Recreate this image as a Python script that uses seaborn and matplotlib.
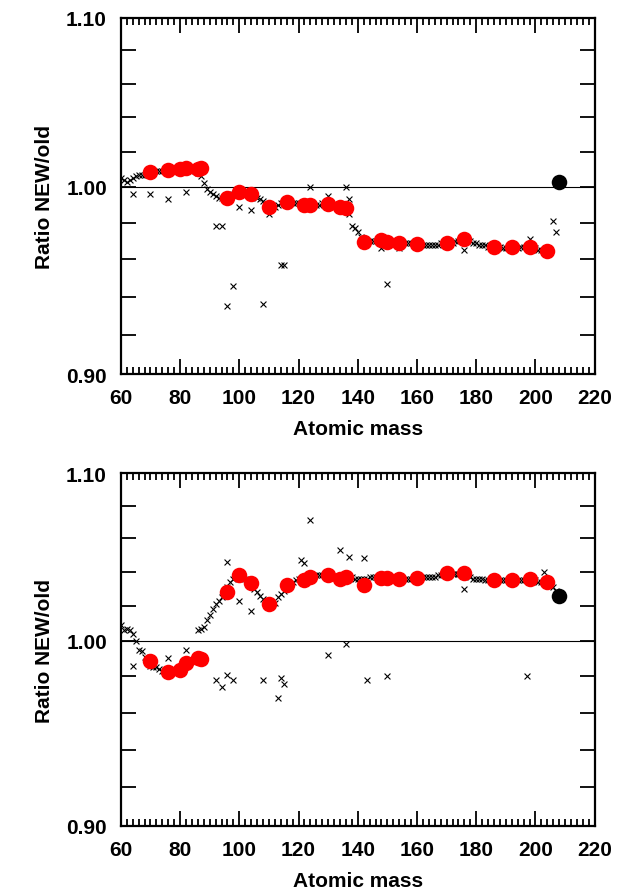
import numpy as np
import pandas as pd
import seaborn as sns
import matplotlib.pyplot as plt
from matplotlib.ticker import FixedLocator, FixedFormatter, MultipleLocator, NullLocator

# masses of the full chain of x markers
mass = list(range(60, 206))
mass_b = list(range(60, 208))

# top panel, chain of x markers
ratio_top = [
    1.005, 1.004, 1.003, 1.004, 1.005, 1.006, 1.007, 1.007, 1.007, 1.008,
    1.008, 1.008, 1.009, 1.009, 1.009, 1.009, 1.009, 1.010, 1.010, 1.010,
    1.010, 1.010, 1.010, 1.010, 1.010, 1.009, 1.008, 1.006, 1.002, 0.999,
    0.997, 0.996, 0.995, 0.994, 0.994, 0.994, 0.994, 0.995, 0.996, 0.997,
    0.997, 0.997, 0.997, 0.996, 0.996, 0.995, 0.994, 0.993, 0.992, 0.990,
    0.989, 0.988, 0.989, 0.990, 0.991, 0.991, 0.991, 0.991, 0.991, 0.991,
    0.991, 0.990, 0.990, 0.990, 0.990, 0.990, 0.990, 0.990, 0.991, 0.991,
    0.991, 0.990, 0.990, 0.989, 0.989, 0.989, 0.989, 0.985, 0.978, 0.977,
    0.975, 0.972, 0.970, 0.970, 0.970, 0.970, 0.970, 0.970, 0.970, 0.970,
    0.969, 0.969, 0.969, 0.969, 0.969, 0.969, 0.969, 0.969, 0.969, 0.968,
    0.968, 0.968, 0.968, 0.968, 0.968, 0.968, 0.968, 0.968, 0.969, 0.969,
    0.969, 0.969, 0.969, 0.970, 0.970, 0.971, 0.971, 0.970, 0.970, 0.969,
    0.969, 0.968, 0.968, 0.968, 0.967, 0.967, 0.967, 0.967, 0.967, 0.966,
    0.966, 0.966, 0.966, 0.966, 0.966, 0.967, 0.967, 0.967, 0.967, 0.966,
    0.966, 0.965, 0.965, 0.965, 0.964, 0.964,
]

# top panel, scattered x markers
out_mass_top = [64, 70, 76, 82, 92, 94, 96, 98, 100, 104, 108, 110, 114, 115,
                124, 130, 136, 137, 148, 150, 154, 176, 198, 206, 207, 208]
out_ratio_top = [0.996, 0.996, 0.993, 0.997, 0.978, 0.978, 0.935, 0.946, 0.989,
                 0.987, 0.936, 0.985, 0.957, 0.957, 1.000, 0.995, 1.000, 0.993,
                 0.966, 0.947, 0.966, 0.965, 0.971, 0.981, 0.975, 1.004]

# bottom panel, chain of x markers
ratio_bot = [
    1.009, 1.006, 1.007, 1.006, 1.004, 1.000, 0.995, 0.994, 0.991, 0.988,
    0.986, 0.985, 0.985, 0.984, 0.983, 0.983, 0.983, 0.983, 0.983, 0.984,
    0.984, 0.986, 0.987, 0.988, 0.989, 0.990, 1.006, 1.007, 1.008, 1.012,
    1.015, 1.018, 1.021, 1.023, 1.025, 1.028, 1.031, 1.034, 1.036, 1.037,
    1.038, 1.037, 1.036, 1.034, 1.033, 1.030, 1.028, 1.026, 1.024, 1.022,
    1.021, 1.021, 1.022, 1.025, 1.027, 1.029, 1.031, 1.033, 1.034, 1.035,
    1.036, 1.036, 1.036, 1.037, 1.037, 1.037, 1.038, 1.038, 1.038, 1.038,
    1.038, 1.038, 1.037, 1.037, 1.036, 1.036, 1.036, 1.037, 1.037, 1.036,
    1.036, 1.036, 1.036, 1.036, 1.037, 1.037, 1.037, 1.037, 1.037, 1.036,
    1.036, 1.036, 1.036, 1.036, 1.036, 1.036, 1.036, 1.036, 1.036, 1.036,
    1.036, 1.036, 1.037, 1.037, 1.037, 1.037, 1.037, 1.038, 1.038, 1.039,
    1.039, 1.039, 1.039, 1.039, 1.039, 1.039, 1.039, 1.038, 1.037, 1.036,
    1.036, 1.036, 1.036, 1.035, 1.035, 1.035, 1.035, 1.035, 1.035, 1.035,
    1.035, 1.035, 1.035, 1.035, 1.035, 1.035, 1.035, 1.035, 1.035, 1.035,
    1.035, 1.034, 1.034, 1.034, 1.033, 1.032, 1.031, 1.029,
]

# bottom panel, scattered x markers
out_mass_bot = [64, 76, 82, 92, 94, 96, 98, 96, 100, 104, 108, 113, 114, 115,
                121, 122, 124, 130, 134, 136, 137, 142, 143, 150, 176, 197, 203]
out_ratio_bot = [0.986, 0.990, 0.995, 0.978, 0.974, 0.981, 0.978, 1.046, 1.023,
                 1.017, 0.978, 0.968, 0.979, 0.976, 1.047, 1.045, 1.071, 0.992,
                 1.053, 0.998, 1.049, 1.048, 0.978, 0.980, 1.030, 0.980, 1.040]

# red circles (same nuclei in both panels)
red_mass = [70, 76, 80, 82, 86, 87, 96, 100, 104, 110, 116, 122, 124, 130, 134,
            136, 142, 148, 150, 154, 160, 170, 176, 186, 192, 198, 204]
red_top = [1.0083, 1.0095, 1.0100, 1.0110, 1.0100, 1.0105, 0.9936, 0.9973,
           0.9963, 0.9888, 0.9915, 0.9899, 0.9899, 0.9904, 0.9888, 0.9883,
           0.9697, 0.9707, 0.9697, 0.9690, 0.9686, 0.9690, 0.9713, 0.9670,
           0.9665, 0.9670, 0.9644]
red_bot = [0.9887, 0.9827, 0.9838, 0.9876, 0.9903, 0.9897, 1.0280, 1.0380,
           1.0333, 1.0214, 1.0320, 1.0350, 1.0369, 1.0380, 1.0357, 1.0369,
           1.0320, 1.0363, 1.0363, 1.0357, 1.0363, 1.0393, 1.0393, 1.0350,
           1.0350, 1.0357, 1.0340]

# black circle (A = 208)
black_mass = [208]
black_top = [1.003]
black_bot = [1.026]

sns.set_style('ticks')
plt.rcParams['font.family'] = ['Liberation Sans', 'DejaVu Sans']
plt.rcParams['font.weight'] = 'bold'
plt.rcParams['text.color'] = 'black'
plt.rcParams['axes.labelcolor'] = 'black'
plt.rcParams['xtick.color'] = 'black'
plt.rcParams['ytick.color'] = 'black'

fig = plt.figure(figsize=(6.26, 8.95), dpi=100)
ax1 = fig.add_axes([0.193, 0.581, 0.757, 0.398])
ax2 = fig.add_axes([0.193, 0.076, 0.757, 0.394])

panels = [
    (ax1, mass, ratio_top, out_mass_top, out_ratio_top, red_top, black_top),
    (ax2, mass_b, ratio_bot, out_mass_bot, out_ratio_bot, red_bot, black_bot),
]

yticks = [0.90, 0.92, 0.94, 0.96, 0.98, 1.00, 1.02, 1.04, 1.06, 1.08, 1.10]
ylabels = ['0.90', '', '', '', '', '1.00', '', '', '', '', '1.10']

for ax, m, r, om, orr, rr, br in panels:
    ax.set_yscale('log')
    ax.axhline(1.0, color='black', lw=0.8, zorder=1)
    xs = pd.DataFrame({'A': list(m) + om, 'ratio': list(r) + orr})
    sns.scatterplot(data=xs, x='A', y='ratio', marker='x', color='black',
                    s=18, linewidth=0.8, ax=ax, zorder=2)
    sns.scatterplot(x=red_mass, y=rr, marker='o', color='red', s=125,
                    linewidth=0, ax=ax, zorder=3)
    sns.scatterplot(x=black_mass, y=br, marker='o', color='black', s=125,
                    linewidth=0, ax=ax, zorder=3)

    ax.set_xlim(60, 220)
    ax.set_ylim(0.90, 1.10)
    ax.xaxis.set_major_locator(MultipleLocator(20))
    ax.xaxis.set_minor_locator(MultipleLocator(2))
    ax.yaxis.set_major_locator(FixedLocator(yticks))
    ax.yaxis.set_major_formatter(FixedFormatter(ylabels))
    ax.yaxis.set_minor_locator(NullLocator())

    ax.tick_params(which='both', direction='in', top=True, right=True,
                   width=1.3, labelsize=15, pad=10, colors='black')
    ax.tick_params(which='major', length=11)
    ax.tick_params(which='minor', length=5)
    for s in ax.spines.values():
        s.set_linewidth(1.6)
        s.set_color('black')

    ax.set_xlabel('Atomic mass', fontsize=15, fontweight='bold', labelpad=9,
                  color='black')
    ax.set_ylabel('Ratio NEW/old', fontsize=15, fontweight='bold', labelpad=9,
                  color='black')
    for lab in ax.get_xticklabels() + ax.get_yticklabels():
        lab.set_fontweight('bold')

fig.savefig('out.png', dpi=100)
